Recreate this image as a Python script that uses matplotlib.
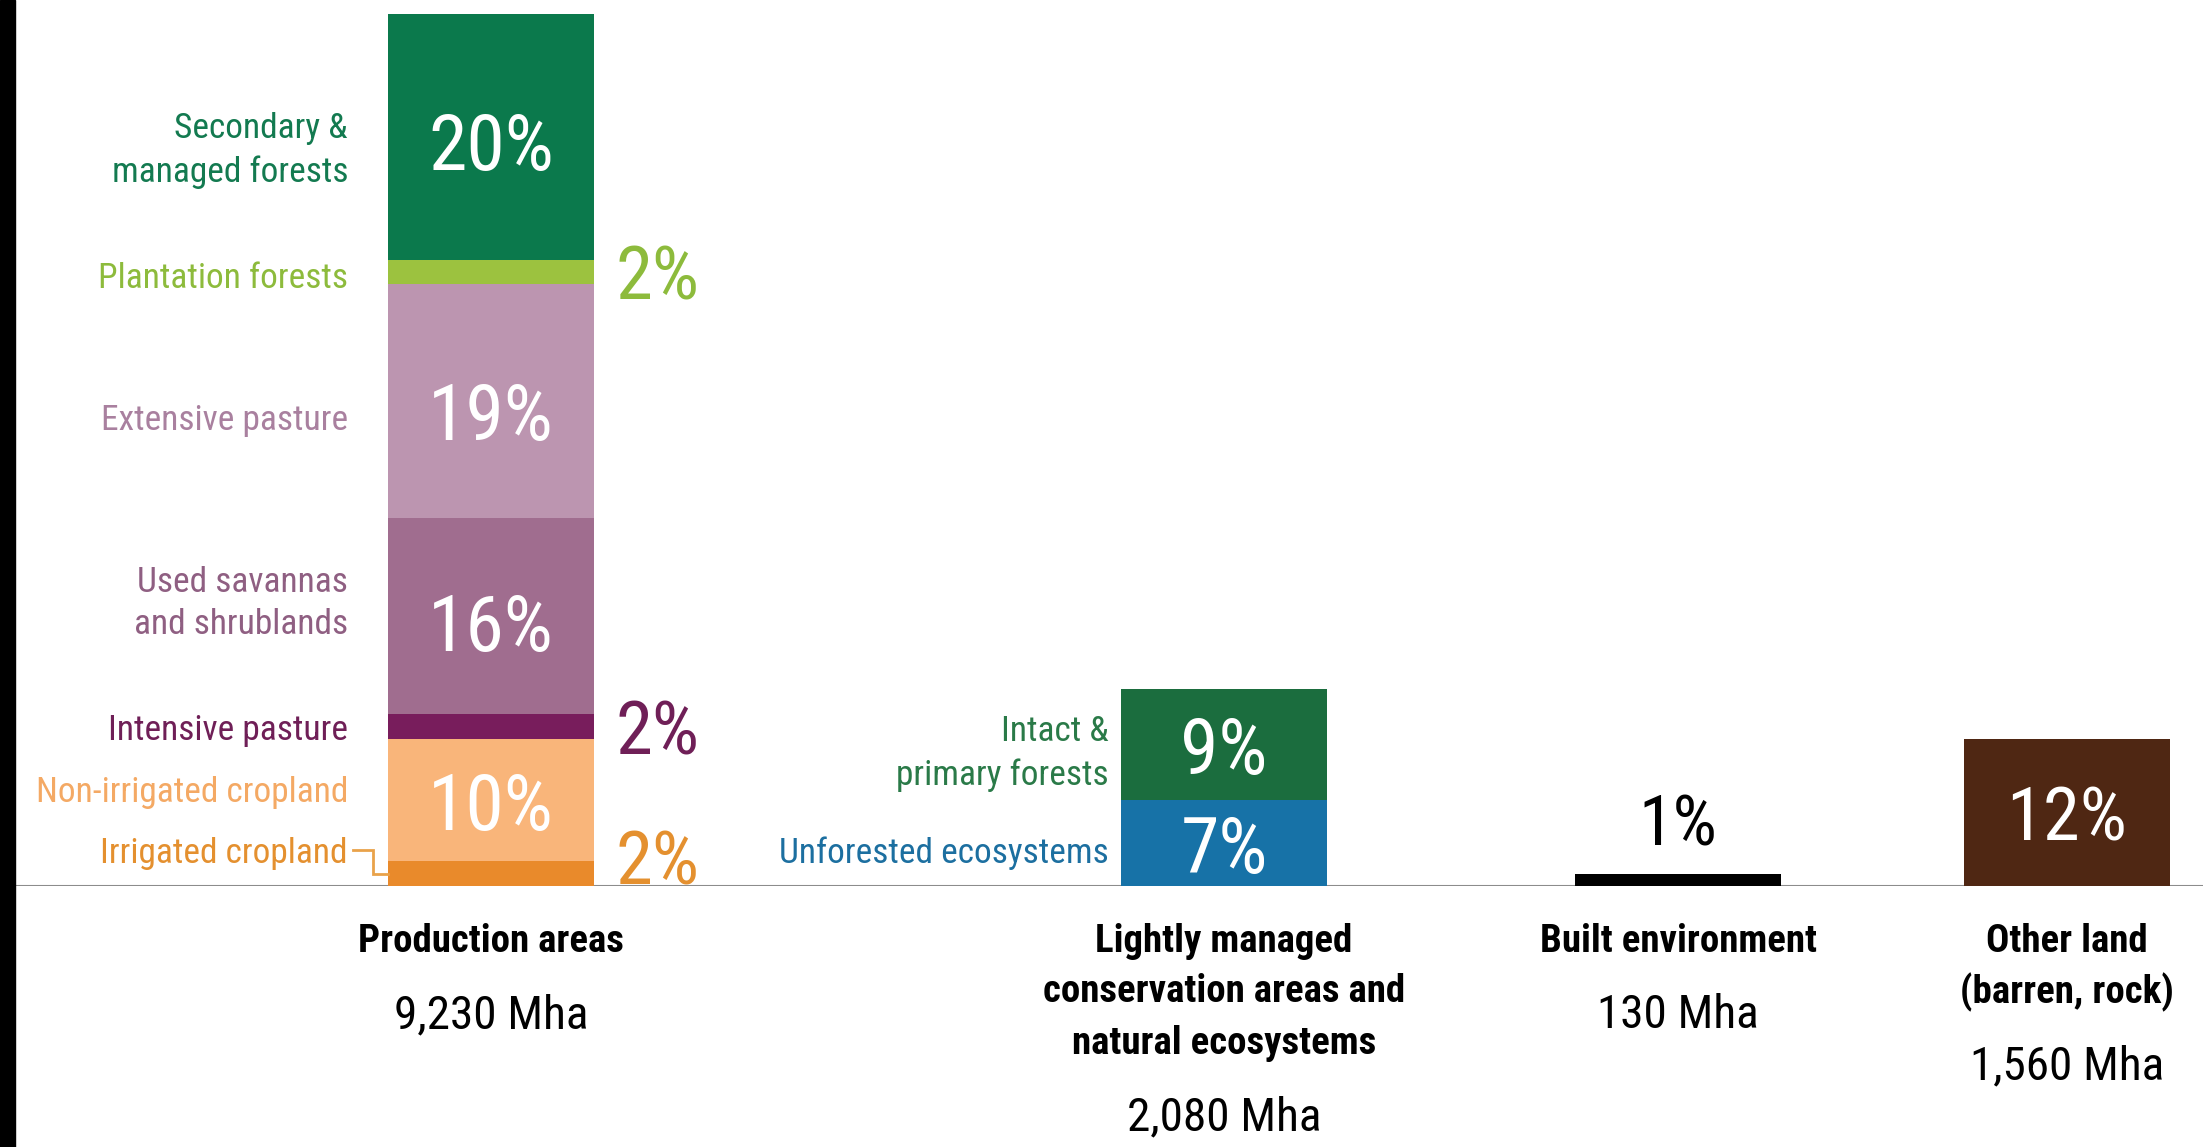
import matplotlib
matplotlib.use("Agg")
import matplotlib.pyplot as plt
from matplotlib.patches import Rectangle

plt.rcParams.update({
    "font.family": ["Roboto Condensed", "IBM Plex Sans Condensed", "DejaVu Sans"],
    "figure.facecolor": "white",
    "axes.facecolor": "white",
})

# Share of global ice-free land (%), stacked bottom to top
prod_labels = ["Irrigated cropland", "Non-irrigated cropland", "Intensive pasture",
               "Used savannas\nand shrublands", "Extensive pasture",
               "Plantation forests", "Secondary &\nmanaged forests"]
prod_share = [2, 10, 2, 16, 19, 2, 20]
prod_colors = ["#e98a2b", "#f9b57a", "#781d5c", "#a06d8f", "#bc95b0", "#9cc23f", "#0b794c"]
prod_text_colors = ["#e4902f", "#f4a964", "#6f1f57", "#8f5f82", "#a9809f", "#8dbb3c", "#137a50"]

cons_labels = ["Unforested ecosystems", "Intact &\nprimary forests"]
cons_share = [7, 9]
cons_colors = ["#1772a7", "#1b6d3e"]
cons_text_colors = ["#1c6fa0", "#2a7a48"]

built_share = [1]
other_share = [12]

group_names = [["Production areas"],
               ["Lightly managed", "conservation areas and", "natural ecosystems"],
               ["Built environment"],
               ["Other land", "(barren, rock)"]]
group_area = ["9,230 Mha", "2,080 Mha", "130 Mha", "1,560 Mha"]

# layout (pixel units along x, at dpi 100)
W, H = 2203, 1147
STRIP = 15
BASE_PX = 886
TOP_PX = 14
GROUP_X = [491, 1224, 1678, 2067]
BAR_W = 206
PCT_SIZE = 56
LABEL_SIZE = 25.5
NAME_SIZE = 28
AREA_SIZE = 34

fig = plt.figure(figsize=(W / 100, H / 100), dpi=100)
fig.patches.append(Rectangle((0, 0), STRIP / W, 1, transform=fig.transFigure,
                             color="black", zorder=0))
ax = fig.add_axes([STRIP / W, (H - BASE_PX) / H, 1 - STRIP / W, (BASE_PX - TOP_PX) / H])
total_prod = sum(prod_share)
ax.set_xlim(STRIP, W)
ax.set_ylim(0, total_prod)
ax.axis("off")


def stack(x, shares, colors):
    bottoms = []
    b = 0
    for s, c in zip(shares, colors):
        ax.bar(x, s, bottom=b, width=BAR_W, color=c, linewidth=0, zorder=2)
        bottoms.append(b)
        b += s
    return bottoms


# production areas
px = GROUP_X[0]
bots = stack(px, prod_share, prod_colors)
left_nudge = [1.65, 0.65, -0.35, 1.0, -1.6, -0.55, -1.1]
pct_nudge = [0, 0, 0, -0.5, -0.8, 0, -0.3]
for lab, s, b, c, nud, pn in zip(prod_labels, prod_share, bots, prod_text_colors,
                                 left_nudge, pct_nudge):
    mid = b + s / 2
    ax.text(px - BAR_W / 2 - 40, mid + nud, lab, ha="right", va="center",
            color=c, fontsize=LABEL_SIZE, linespacing=1.38)
    if s > 3:
        ax.text(px, mid + pn, f"{s}%", ha="center", va="center_baseline",
                color="white", fontsize=PCT_SIZE)
    else:
        y = max(mid, 2.4)
        ax.text(px + BAR_W / 2 + 64, y, f"{s}%", ha="center", va="center_baseline",
                color=c, fontsize=PCT_SIZE * 0.96)

# bracket from "Irrigated cropland" to its thin segment
irr_mid = bots[0] + prod_share[0] / 2
label_y = irr_mid + left_nudge[0] + 0.3
x0 = px - BAR_W / 2 - 35
ax.plot([x0, x0 + 20, x0 + 20, px - BAR_W / 2],
        [label_y, label_y, irr_mid, irr_mid],
        color="#e9a24a", lw=2, solid_joinstyle="miter", zorder=3)

# lightly managed / natural ecosystems
cx = GROUP_X[1]
bots = stack(cx, cons_share, cons_colors)
cons_nudge = [-0.8, -0.7]
for lab, s, b, c, nud in zip(cons_labels, cons_share, bots, cons_text_colors, cons_nudge):
    mid = b + s / 2
    ax.text(cx - BAR_W / 2 - 12, mid + nud, lab, ha="right", va="center",
            color=c, fontsize=LABEL_SIZE, linespacing=1.38)
    ax.text(cx, mid, f"{s}%", ha="center", va="center_baseline",
            color="white", fontsize=PCT_SIZE)

# built environment
bx = GROUP_X[2]
stack(bx, built_share, ["black"])
ax.text(bx, built_share[0] + 4.45, f"{built_share[0]}%", ha="center",
        va="center_baseline", color="black", fontsize=PCT_SIZE * 0.9)

# other land
ox = GROUP_X[3]
stack(ox, other_share, ["#4f2713"])
ax.text(ox, other_share[0] / 2, f"{other_share[0]}%", ha="center", va="center_baseline",
        color="white", fontsize=PCT_SIZE * 0.96)

ax.axhline(0, color="#8c8c8c", lw=1.5, zorder=1)

# group names and areas below the baseline
for x, names, area in zip(GROUP_X, group_names, group_area):
    for i, line in enumerate(names):
        off = (55 + 51 * i) * 0.72
        ax.annotate(line, xy=(x, 0), xytext=(0, -off), textcoords="offset points",
                    ha="center", va="center", fontsize=NAME_SIZE, fontweight="bold",
                    color="black", annotation_clip=False)
    off = (55 + 51 * (len(names) - 1) + 74) * 0.72
    ax.annotate(area, xy=(x, 0), xytext=(0, -off), textcoords="offset points",
                ha="center", va="center", fontsize=AREA_SIZE, color="black",
                annotation_clip=False)

fig.savefig("out.png", dpi=100)
